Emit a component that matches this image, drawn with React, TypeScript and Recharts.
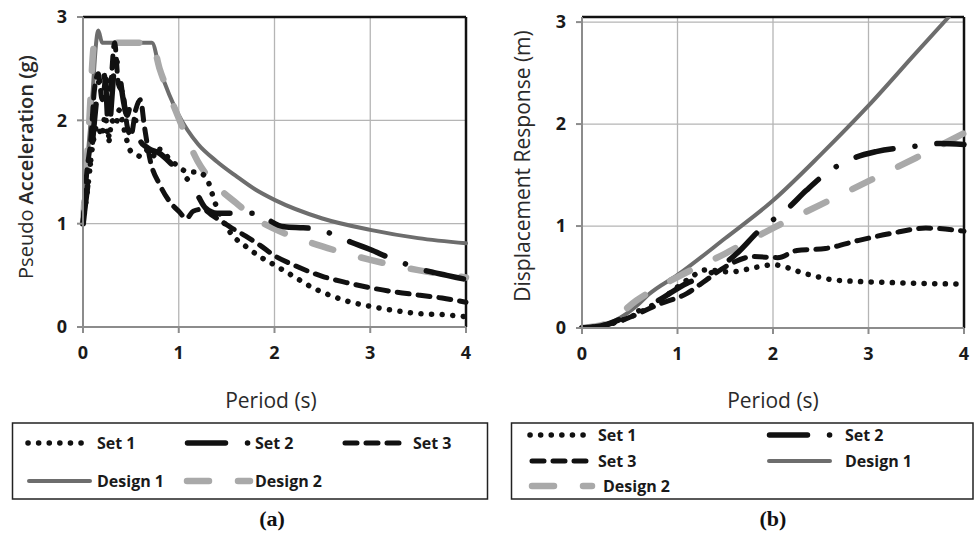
import React from 'react';
import {
  LineChart,
  Line,
  XAxis,
  YAxis,
  CartesianGrid,
  ReferenceLine
} from 'recharts';

// (a) pseudo acceleration, [period, value]
const set1A = [
  [0, 1.0], [0.05, 1.35], [0.1, 1.75], [0.15, 1.95], [0.2, 1.85], [0.23, 2.05], [0.27, 1.8],
  [0.3, 2.0], [0.34, 1.95], [0.38, 2.1], [0.42, 1.95], [0.46, 1.8], [0.5, 1.7], [0.55, 1.68],
  [0.6, 1.65], [0.65, 1.7], [0.7, 1.72], [0.75, 1.65], [0.8, 1.72], [0.9, 1.63], [1.0, 1.55],
  [1.1, 1.5], [1.2, 1.5], [1.3, 1.42], [1.38, 1.2], [1.45, 1.05], [1.55, 0.9], [1.7, 0.78],
  [1.85, 0.68], [2.0, 0.6], [2.2, 0.49], [2.4, 0.38], [2.6, 0.3], [2.8, 0.24], [3.0, 0.2],
  [3.25, 0.16], [3.5, 0.13], [3.75, 0.12], [4.0, 0.1]
];
const set2A = [
  [0, 1.0], [0.04, 1.3], [0.08, 1.6], [0.12, 2.0], [0.16, 2.35], [0.2, 2.5], [0.24, 2.3],
  [0.27, 1.85], [0.3, 2.2], [0.34, 2.6], [0.38, 2.45], [0.42, 2.2], [0.46, 2.05], [0.5, 2.15],
  [0.55, 2.0], [0.6, 1.8], [0.65, 1.75], [0.7, 1.72], [0.8, 1.68], [0.9, 1.6], [1.0, 1.5],
  [1.1, 1.42], [1.2, 1.27], [1.28, 1.15], [1.4, 1.1], [1.55, 1.1], [1.7, 1.1], [1.85, 1.1],
  [1.95, 1.03], [2.1, 0.97], [2.3, 0.96], [2.45, 0.95], [2.6, 0.9], [2.8, 0.82], [3.0, 0.75],
  [3.2, 0.67], [3.4, 0.6], [3.6, 0.54], [3.8, 0.5], [4.0, 0.46]
];
const set3A = [
  [0, 1.0], [0.04, 1.5], [0.08, 1.8], [0.12, 2.3], [0.16, 2.45], [0.2, 2.2], [0.24, 2.4],
  [0.28, 2.3], [0.33, 2.75], [0.37, 2.35], [0.42, 2.25], [0.46, 1.95], [0.5, 1.85], [0.55, 2.1],
  [0.6, 2.2], [0.64, 1.95], [0.7, 1.62], [0.8, 1.38], [0.9, 1.22], [1.0, 1.12], [1.08, 1.05],
  [1.15, 1.12], [1.25, 1.14], [1.35, 1.08], [1.45, 1.02], [1.55, 0.96], [1.7, 0.88], [1.85, 0.79],
  [2.0, 0.69], [2.2, 0.6], [2.5, 0.49], [2.75, 0.43], [3.0, 0.38], [3.25, 0.34], [3.5, 0.31],
  [3.75, 0.28], [4.0, 0.24]
];
const design1A = [
  [0, 1.1], [0.08, 2.0], [0.16, 2.87], [0.2, 2.75], [0.45, 2.75], [0.72, 2.75], [0.8, 2.5],
  [0.9, 2.25], [1.0, 2.05], [1.2, 1.77], [1.4, 1.6], [1.6, 1.46], [1.8, 1.33], [2.0, 1.23],
  [2.5, 1.05], [3.0, 0.94], [3.5, 0.86], [4.0, 0.81]
];
const design2A = [
  [0, 1.0], [0.06, 1.9], [0.12, 2.75], [0.4, 2.75], [0.72, 2.75], [0.8, 2.5], [0.9, 2.25],
  [1.0, 2.02], [1.2, 1.6], [1.4, 1.36], [1.6, 1.2], [1.8, 1.05], [2.0, 0.95], [2.5, 0.78],
  [3.0, 0.65], [3.5, 0.55], [4.0, 0.48]
];

// (b) displacement response, [period, value]
const set1B = [
  [0, 0], [0.2, 0.02], [0.46, 0.09], [0.8, 0.26], [1.1, 0.47], [1.3, 0.57], [1.55, 0.55],
  [1.85, 0.6], [2.0, 0.62], [2.35, 0.53], [2.65, 0.47], [3.1, 0.45], [3.45, 0.44], [4.0, 0.43]
];
const set2B = [
  [0, 0], [0.2, 0.02], [0.46, 0.11], [0.8, 0.27], [1.1, 0.44], [1.27, 0.5], [1.45, 0.6],
  [1.62, 0.73], [1.86, 0.96], [2.14, 1.16], [2.35, 1.35], [2.56, 1.52], [2.8, 1.65],
  [3.08, 1.73], [3.47, 1.78], [3.75, 1.81], [4.0, 1.8]
];
const set3B = [
  [0, 0], [0.2, 0.02], [0.46, 0.09], [0.8, 0.23], [1.1, 0.34], [1.3, 0.47], [1.5, 0.6],
  [1.8, 0.7], [2.05, 0.69], [2.25, 0.76], [2.55, 0.78], [2.9, 0.86], [3.25, 0.93], [3.6, 0.98],
  [4.0, 0.95]
];
const design1B = [
  [0, 0], [0.2, 0.02], [0.4, 0.1], [0.6, 0.24], [0.7, 0.33], [1.0, 0.52], [1.5, 0.88],
  [2.0, 1.25], [2.5, 1.7], [3.0, 2.18], [3.5, 2.7], [3.84, 3.05]
];
const design2B = [
  [0, 0], [0.25, 0.04], [0.57, 0.27], [1.0, 0.5], [1.5, 0.73], [2.0, 0.98], [2.5, 1.21],
  [3.0, 1.44], [3.5, 1.67], [4.0, 1.91]
];

const periodTicks = [0, 1, 2, 3, 4];
const valueTicks = [0, 1, 2, 3];

const toPts = (arr: number[][]) => arr.map(([t, v]) => ({ t, v }));

const FONT = '"Open Sans", sans-serif';

const STYLES: Record<string, any> = {
  set1: { stroke: '#111', strokeWidth: 5.5, strokeDasharray: '0.1 10.5' },
  set2: { stroke: '#111', strokeWidth: 5.5, strokeDasharray: '38 22 0.1 22' },
  set3: { stroke: '#111', strokeWidth: 5, strokeDasharray: '12 9' },
  design1: { stroke: '#6d6d6d', strokeWidth: 4 },
  design2: { stroke: '#a9a9a9', strokeWidth: 6.5, strokeDasharray: '22 29' }
};

const tickStyle = { fill: '#1a1a1a', fontSize: 18, fontWeight: 700, fontFamily: FONT };

interface PanelProps {
  left: number;
  width: number;
  yWidth: number;
  right: number;
  bottom: number;
  yMax: number;
  series: { key: string; data: number[][] }[];
}

const Panel: React.FC<PanelProps> = ({ left, width, yWidth, right, bottom, yMax, series }) => (
  <div style={{ position: 'absolute', left, top: 0 }}>
    <LineChart width={width} height={420} margin={{ top: 17, right, bottom, left: 0 }}>
      <CartesianGrid stroke="#b5b5b5" strokeWidth={1.3} />
      <XAxis
        type="number"
        dataKey="t"
        domain={[0, 4]}
        ticks={periodTicks}
        height={73}
        tick={tickStyle}
        tickSize={6}
        tickMargin={13}
        stroke="#8c8c8c"
        strokeWidth={2}
      />
      <YAxis
        type="number"
        dataKey="v"
        domain={[0, yMax]}
        ticks={valueTicks}
        width={yWidth}
        tick={tickStyle}
        tickSize={6}
        tickMargin={10}
        stroke="#8c8c8c"
        strokeWidth={2}
        allowDataOverflow
      />
      <ReferenceLine y={yMax} stroke="#111" strokeWidth={2.5} />
      <ReferenceLine x={4} stroke="#111" strokeWidth={2.5} />
      {series.map(s => (
        <Line
          key={s.key}
          data={toPts(s.data)}
          dataKey="v"
          type="monotone"
          dot={false}
          activeDot={false}
          strokeLinecap="round"
          {...STYLES[s.key]}
          isAnimationActive={false}
        />
      ))}
    </LineChart>
  </div>
);

const LegendSample = ({ x1, x2, y, k }: { x1: number; x2: number; y: number; k: string }) => (
  <line x1={x1} x2={x2} y1={y} y2={y} strokeLinecap="round" fill="none" {...STYLES[k]} />
);

const LegendText = ({ x, y, children }: { x: number; y: number; children: React.ReactNode }) => (
  <text x={x} y={y} dominantBaseline="central" fontFamily={FONT} fontWeight={700} fontSize={16} fill="#1a1a1a">
    {children}
  </text>
);

const App: React.FC = () => {
  const seriesA = [
    { key: 'design1', data: design1A },
    { key: 'design2', data: design2A },
    { key: 'set3', data: set3A },
    { key: 'set2', data: set2A },
    { key: 'set1', data: set1A }
  ];
  const seriesB = [
    { key: 'design1', data: design1B },
    { key: 'design2', data: design2B },
    { key: 'set3', data: set3B },
    { key: 'set2', data: set2B },
    { key: 'set1', data: set1B }
  ];

  return (
    <div style={{ position: 'absolute', left: 0, top: 0, width: 974, height: 538, background: '#fff', overflow: 'hidden' }}>
      <Panel left={0} width={490} yWidth={83} right={24} bottom={20} yMax={3} series={seriesA} />
      <Panel left={487} width={487} yWidth={95} right={10} bottom={19} yMax={3.05} series={seriesB} />

      <svg width={974} height={538} style={{ position: 'absolute', left: 0, top: 0, pointerEvents: 'none' }}>
        {/* axis titles */}
        <text
          transform="translate(25,167) rotate(-90)"
          textAnchor="middle"
          dominantBaseline="central"
          fontFamily={FONT}
          fontSize={20}
          fill="#2a2a2a"
        >
          Pseudo <tspan fontWeight={600}>Acceleration (g)</tspan>
        </text>
        <text
          transform="translate(522,166) rotate(-90)"
          textAnchor="middle"
          dominantBaseline="central"
          fontFamily={FONT}
          fontSize={21}
          fill="#2a2a2a"
        >
          Displacement Response (m)
        </text>
        <text x={271} y={400} textAnchor="middle" dominantBaseline="central" fontFamily={FONT} fontSize={21} fill="#2a2a2a">
          Period (s)
        </text>
        <text x={773} y={400} textAnchor="middle" dominantBaseline="central" fontFamily={FONT} fontSize={21} fill="#2a2a2a">
          Period (s)
        </text>

        {/* legend (a) */}
        <rect x={12.5} y={423} width={475} height={76} fill="none" stroke="#222" strokeWidth={1.5} />
        <LegendSample x1={28} x2={86} y={443} k="set1" />
        <LegendText x={97} y={443}>Set 1</LegendText>
        <LegendSample x1={187.5} x2={250} y={443} k="set2" />
        <LegendText x={255} y={443}>Set 2</LegendText>
        <LegendSample x1={345} x2={400} y={443} k="set3" />
        <LegendText x={413} y={443}>Set 3</LegendText>
        <LegendSample x1={29} x2={90} y={481} k="design1" />
        <LegendText x={97} y={481}>Design 1</LegendText>
        <LegendSample x1={187} x2={250} y={481} k="design2" />
        <LegendText x={255} y={481}>Design 2</LegendText>

        {/* legend (b) */}
        <rect x={511.5} y={423} width={461.5} height={76} fill="none" stroke="#222" strokeWidth={1.5} />
        <LegendSample x1={530} x2={588} y={435} k="set1" />
        <LegendText x={598} y={435}>Set 1</LegendText>
        <LegendSample x1={769.5} x2={830} y={435} k="set2" />
        <LegendText x={845} y={435}>Set 2</LegendText>
        <LegendSample x1={532} x2={587} y={461} k="set3" />
        <LegendText x={598} y={461}>Set 3</LegendText>
        <LegendSample x1={769} x2={830} y={461} k="design1" />
        <LegendText x={845} y={461}>Design 1</LegendText>
        <LegendSample x1={532} x2={592} y={486} k="design2" />
        <LegendText x={603} y={486}>Design 2</LegendText>

        {/* panel captions */}
        <text x={272} y={518} textAnchor="middle" dominantBaseline="central" fontFamily='"Liberation Serif", serif' fontWeight={700} fontSize={22} fill="#111">
          (a)
        </text>
        <text x={773} y={518} textAnchor="middle" dominantBaseline="central" fontFamily='"Liberation Serif", serif' fontWeight={700} fontSize={22} fill="#111">
          (b)
        </text>
      </svg>
    </div>
  );
};

export default App;
